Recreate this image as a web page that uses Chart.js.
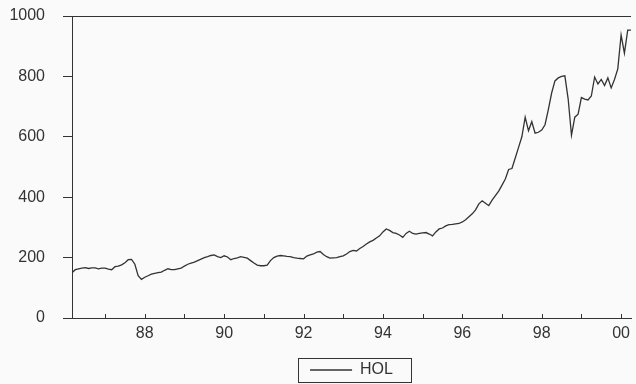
<!DOCTYPE html>
<html>
<head>
<meta charset="utf-8">
<script src="https://cdn.jsdelivr.net/npm/chart.js@4/dist/chart.umd.min.js"></script>
<style>
  html, body { margin: 0; padding: 0; background: #fafafa; }
  #wrap { width: 636px; height: 384px; }
</style>
</head>
<body>
<div id="wrap"><canvas id="myChart" width="636" height="384"></canvas></div>
<script>
// monthly HOL series, 1986:03 .. 2000:04
const startYear = 1986;
const startMonth = 3;
const hol = [
    150, 160, 163, 165, 167, 164, 166, 166, 163, 165,            // 1986
    165, 162, 160, 170, 172, 176, 183, 193, 194, 178, 140, 128,  // 1987
    135, 140, 145, 148, 150, 152, 158, 163, 160, 160, 163, 165,  // 1988
    172, 178, 182, 185, 190, 195, 200, 203, 207, 209, 203, 200,  // 1989
    206, 202, 193, 197, 199, 203, 201, 198, 190, 182, 175, 173,  // 1990
    173, 175, 190, 200, 205, 207, 206, 204, 203, 200, 198, 197,  // 1991
    196, 205, 209, 212, 218, 220, 210, 203, 198, 199, 200, 203,  // 1992
    206, 212, 220, 224, 222, 230, 237, 245, 252, 257, 265, 272,  // 1993
    285, 295, 290, 283, 280, 275, 267, 280, 287, 280, 278, 280,  // 1994
    282, 283, 278, 272, 285, 295, 298, 305, 309, 310, 312, 313,  // 1995
    318, 325, 335, 345, 358, 378, 388, 380, 372, 390, 405, 420,  // 1996
    440, 460, 492, 495, 530, 565, 600, 665, 620, 650, 612, 615,  // 1997
    622, 640, 690, 745, 785, 795, 800, 802, 725, 605, 665, 675,  // 1998
    730, 725, 722, 735, 798, 775, 790, 770, 795, 762, 790, 825,  // 1999
    937, 877, 953, 953                                           // 2000
];
const yTicks = [0, 200, 400, 600, 800, 1000];

const ink = '#333333';
const font = { family: '"Liberation Sans", Arial, sans-serif', size: 16 };

const points = hol.map((v, i) => ({ x: startYear + (startMonth - 1 + i) / 12, y: v }));
const xMin = points[0].x;
const xMax = points[points.length - 1].x;

// small year ticks pointing up into the plot, like the original
const innerTicks = {
    id: 'innerTicks',
    afterDraw(chart) {
        const xs = chart.scales.x;
        const bottom = chart.chartArea.bottom;
        const c = chart.ctx;
        c.save();
        c.strokeStyle = ink;
        c.lineWidth = 1;
        for (let yr = Math.ceil(xMin); yr <= xMax; yr++) {
            const px = Math.round(xs.getPixelForValue(yr)) + 0.5;
            c.beginPath();
            c.moveTo(px, bottom);
            c.lineTo(px, bottom - 4);
            c.stroke();
        }
        c.restore();
    }
};

// nudge the legend down a little and frame it
const legendFrame = {
    id: 'legendFrame',
    afterLayout(chart) {
        chart.legend.top += 4;
        chart.legend.bottom += 4;
    },
    afterDraw(chart) {
        const hb = chart.legend.legendHitBoxes[0];
        if (!hb) return;
        const c = chart.ctx;
        c.save();
        c.strokeStyle = ink;
        c.lineWidth = 1;
        c.strokeRect(Math.round(hb.left - 12) + 0.5, Math.round(hb.top - 4) + 0.5,
            Math.round(hb.width + 30), Math.round(hb.height + 8));
        c.restore();
    }
};

const ctx = document.getElementById('myChart').getContext('2d');
const myChart = new Chart(ctx, {
    type: 'line',
    data: {
        datasets: [{
            label: 'HOL',
            data: points,
            borderColor: ink,
            borderWidth: 1.3,
            pointRadius: 0,
            tension: 0,
            fill: false
        }]
    },
    options: {
        responsive: false,
        animation: false,
        layout: { padding: { top: 16, right: 0, bottom: 0, left: 0 } },
        plugins: {
            tooltip: { enabled: false },
            legend: {
                position: 'bottom',
                fullSize: false,
                labels: {
                    usePointStyle: true,
                    pointStyle: 'line',
                    pointStyleWidth: 42,
                    color: ink,
                    font: font,
                    padding: 8
                }
            }
        },
        scales: {
            x: {
                type: 'linear',
                min: xMin,
                max: xMax,
                afterFit: s => { s.height = 32; },
                grid: { drawOnChartArea: false, drawTicks: false },
                border: { display: true, color: ink, width: 1 },
                ticks: {
                    stepSize: 1,
                    includeBounds: false,
                    autoSkip: false,
                    maxRotation: 0,
                    padding: 6,
                    color: ink,
                    font: font,
                    callback: v => {
                        const r = Math.round(v);
                        if (Math.abs(v - r) > 1e-6 || r % 2 !== 0) return '';
                        return String(r).slice(2);
                    }
                }
            },
            y: {
                min: 0,
                max: 1000,
                afterFit: s => {
                    s.width = 72;
                    s.paddingTop = 9;
                    s.paddingBottom = 9;
                },
                afterBuildTicks: s => { s.ticks = yTicks.map(v => ({ value: v })); },
                grid: {
                    color: c => (c.tick && (c.tick.value === 0 || c.tick.value === 1000)) ? ink : 'rgba(0,0,0,0)',
                    tickColor: ink,
                    tickLength: 9,
                    lineWidth: 1
                },
                border: { display: true, color: ink, width: 1 },
                ticks: {
                    padding: 18,
                    color: ink,
                    font: font,
                    callback: v => String(v)
                }
            }
        }
    },
    plugins: [innerTicks, legendFrame]
});
</script>
</body>
</html>
